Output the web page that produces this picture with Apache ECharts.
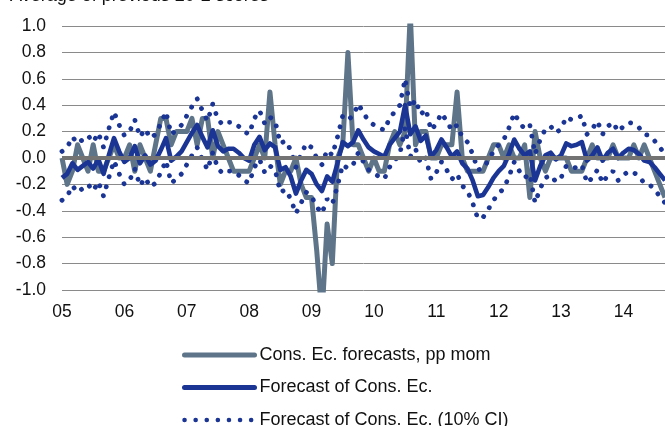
<!DOCTYPE html>
<html>
<head>
<meta charset="utf-8">
<script src="https://cdn.jsdelivr.net/npm/echarts@6/dist/echarts.min.js"></script>
<style>
html,body{margin:0;padding:0;background:#fff;}
#chart{width:665px;height:426px;}
</style>
</head>
<body>
<div id="chart"></div>
<script>
var yearLabels = ['05','06','07','08','09','10','11','12','13','14'];
var titleText = 'Average of previous 20-2 scores';
var seriesNames = ['Cons. Ec. forecasts, pp mom', 'Forecast of Cons. Ec.', 'Forecast of Cons. Ec. (10% CI)'];

var consEc = [
 0.0,-0.2,-0.1,0.1,0.0,-0.1,0.1,-0.1,-0.1,0.0,0.1,0.0,
 0.0,0.1,-0.1,0.1,0.0,-0.1,0.1,0.3,0.3,0.1,0.2,0.2,
 0.2,0.3,0.1,0.3,0.3,0.0,0.2,0.1,0.0,-0.1,-0.1,-0.1,
 -0.1,0.0,0.1,0.0,0.5,0.1,-0.2,-0.1,-0.1,0.0,-0.2,-0.3,
 -0.3,-0.7,-1.2,-0.5,-0.8,0.0,0.1,0.8,0.1,0.1,0.0,-0.1,
 0.0,-0.1,-0.1,0.1,0.2,0.1,0.2,1.1,0.1,0.2,0.2,0.0,
 0.0,0.1,0.1,0.1,0.5,0.0,-0.1,-0.1,-0.1,-0.1,0.0,0.1,
 0.1,0.0,0.1,0.0,0.0,0.1,-0.3,0.2,0.0,-0.1,0.0,0.0,
 0.0,0.0,-0.1,-0.1,-0.1,0.0,0.1,0.0,0.0,0.0,0.1,0.0,
 0.0,0.0,0.1,0.0,0.1,0.0,-0.1,-0.2,-0.3
];

var forecast = [
 -0.15,-0.12,-0.04,-0.09,-0.06,-0.03,-0.08,-0.01,-0.12,0.02,0.15,0.05,
 -0.03,0.00,0.09,-0.04,0.02,-0.05,-0.02,0.06,0.15,-0.02,0.01,0.05,
 0.12,0.19,0.25,0.16,0.08,0.21,0.09,0.05,0.07,0.07,0.04,0.00,
 -0.02,0.10,0.16,0.06,0.11,0.08,-0.09,-0.07,-0.14,-0.27,-0.17,-0.09,
 -0.12,-0.20,-0.25,-0.14,-0.18,-0.04,0.12,0.09,0.12,0.21,0.14,0.08,
 0.05,0.03,0.01,0.10,0.15,0.20,0.40,0.18,0.24,0.13,0.17,0.01,
 0.06,0.14,0.08,0.01,0.05,-0.04,-0.08,-0.17,-0.29,-0.28,-0.22,-0.15,
 -0.10,-0.06,0.03,0.14,0.07,0.02,0.05,-0.17,-0.06,0.02,0.04,-0.01,
 0.02,0.11,0.09,0.10,0.12,-0.02,0.02,0.08,-0.02,0.04,0.07,0.00,
 0.04,0.07,0.06,0.03,-0.02,-0.03,-0.07,-0.12,-0.17
];

var ciUpper = [
 0.05,0.08,0.16,0.11,0.14,0.17,0.12,0.19,0.08,0.22,0.35,0.25,
 0.17,0.20,0.29,0.16,0.22,0.15,0.18,0.26,0.35,0.18,0.21,0.25,
 0.32,0.39,0.45,0.36,0.28,0.41,0.29,0.25,0.27,0.27,0.24,0.20,
 0.18,0.30,0.36,0.26,0.31,0.28,0.11,0.13,0.06,-0.07,0.03,0.11,
 0.08,0.00,-0.05,0.06,0.02,0.16,0.32,0.29,0.32,0.41,0.34,0.28,
 0.25,0.23,0.21,0.30,0.35,0.40,0.60,0.38,0.44,0.33,0.37,0.21,
 0.26,0.34,0.28,0.21,0.25,0.16,0.12,0.03,-0.09,-0.08,-0.02,0.05,
 0.10,0.14,0.23,0.34,0.27,0.22,0.25,0.03,0.14,0.22,0.24,0.19,
 0.22,0.31,0.29,0.30,0.32,0.18,0.22,0.28,0.18,0.24,0.27,0.20,
 0.24,0.27,0.26,0.23,0.18,0.17,0.13,0.08,0.03
];

var ciLower = [
 -0.32,-0.29,-0.21,-0.26,-0.23,-0.20,-0.25,-0.18,-0.29,-0.15,-0.02,-0.12,
 -0.20,-0.17,-0.08,-0.21,-0.15,-0.22,-0.19,-0.11,-0.02,-0.19,-0.16,-0.12,
 -0.05,0.02,0.08,-0.01,-0.09,0.04,-0.08,-0.12,-0.10,-0.10,-0.13,-0.17,
 -0.19,-0.07,-0.01,-0.11,-0.06,-0.09,-0.26,-0.24,-0.31,-0.42,-0.34,-0.26,
 -0.29,-0.37,-0.42,-0.31,-0.35,-0.21,-0.05,-0.08,-0.05,0.04,-0.03,-0.09,
 -0.12,-0.14,-0.16,-0.07,-0.02,0.03,0.23,0.01,0.07,-0.04,0.00,-0.16,
 -0.11,-0.03,-0.09,-0.16,-0.12,-0.21,-0.25,-0.34,-0.46,-0.45,-0.39,-0.32,
 -0.27,-0.23,-0.14,-0.03,-0.10,-0.15,-0.12,-0.34,-0.23,-0.15,-0.13,-0.18,
 -0.15,-0.06,-0.08,-0.07,-0.05,-0.19,-0.15,-0.09,-0.19,-0.13,-0.10,-0.17,
 -0.13,-0.10,-0.11,-0.14,-0.19,-0.20,-0.24,-0.29,-0.34
];

var months = [];
for (var y = 0; y < yearLabels.length; y++) {
  for (var m = 1; m <= 12; m++) {
    if (months.length < forecast.length) months.push(yearLabels[y] + '-' + m);
  }
}

var FONT = '"Liberation Sans", Arial, Helvetica, sans-serif';
var GREY = '#5d7489';
var BLUE = '#1b3595';
var DOT = [0.1, 10.4];
var LEG_DOT = [0.1, 11];

var chart = echarts.init(document.getElementById('chart'), null, {renderer: 'canvas'});
chart.setOption({
  animation: false,
  backgroundColor: '#ffffff',
  graphic: [{
    type: 'text', left: 10, top: -13, silent: true,
    style: {text: titleText, font: '18px ' + FONT, fill: '#111'}
  }],
  legend: {
    orient: 'vertical',
    left: 182, top: 346, height: 120,
    padding: 0,
    itemWidth: 70, itemHeight: 16, itemGap: 14.5,
    itemStyle: {opacity: 0},
    data: [
      {name: seriesNames[0], lineStyle: {color: GREY, width: 5, cap: 'round'}},
      {name: seriesNames[1], lineStyle: {color: BLUE, width: 5, cap: 'round'}},
      {name: seriesNames[2], lineStyle: {color: BLUE, width: 4.5, type: LEG_DOT, cap: 'round'}}
    ],
    textStyle: {fontFamily: FONT, fontSize: 18, color: '#111'}
  },
  grid: {left: 62, right: 0, top: 26, bottom: 136, containLabel: false},
  xAxis: {
    type: 'category',
    data: months,
    boundaryGap: false,
    axisLine: {show: false},
    axisTick: {show: false},
    splitLine: {show: false},
    axisLabel: {
      interval: function (idx) { return idx % 12 === 0; },
      formatter: function (v) { return v.split('-')[0]; },
      margin: 13,
      fontFamily: FONT, fontSize: 17.5, color: '#111'
    }
  },
  yAxis: {
    type: 'value',
    min: -1, max: 1, interval: 0.2,
    axisLine: {show: false},
    axisTick: {show: false},
    splitLine: {show: true, lineStyle: {color: '#8a8a8a', width: 1}},
    axisLabel: {
      formatter: function (v) { return v.toFixed(1); },
      margin: 16,
      fontFamily: FONT, fontSize: 17.5, color: '#111'
    }
  },
  series: [
    {
      name: 'zero', type: 'line', data: [], z: 1, silent: true,
      markLine: {
        silent: true, symbol: 'none', label: {show: false},
        lineStyle: {color: '#737373', width: 4, type: 'solid'},
        data: [{yAxis: 0}]
      }
    },
    {
      name: seriesNames[0], type: 'line', data: consEc, z: 2,
      symbol: 'none', showSymbol: false,
      lineStyle: {color: GREY, width: 5, join: 'round'},
      itemStyle: {color: GREY}
    },
    {
      name: seriesNames[1], type: 'line', data: forecast, z: 3,
      symbol: 'none', showSymbol: false,
      lineStyle: {color: BLUE, width: 4.6, join: 'round'},
      itemStyle: {color: BLUE}
    },
    {
      name: seriesNames[2], type: 'line', data: ciUpper, z: 4,
      symbol: 'none', showSymbol: false,
      lineStyle: {color: BLUE, width: 4.8, type: DOT, cap: 'round'},
      itemStyle: {color: BLUE}
    },
    {
      name: seriesNames[2], type: 'line', data: ciLower, z: 4,
      symbol: 'none', showSymbol: false,
      lineStyle: {color: BLUE, width: 4.8, type: DOT, cap: 'round'},
      itemStyle: {color: BLUE}
    }
  ]
});
</script>
</body>
</html>
